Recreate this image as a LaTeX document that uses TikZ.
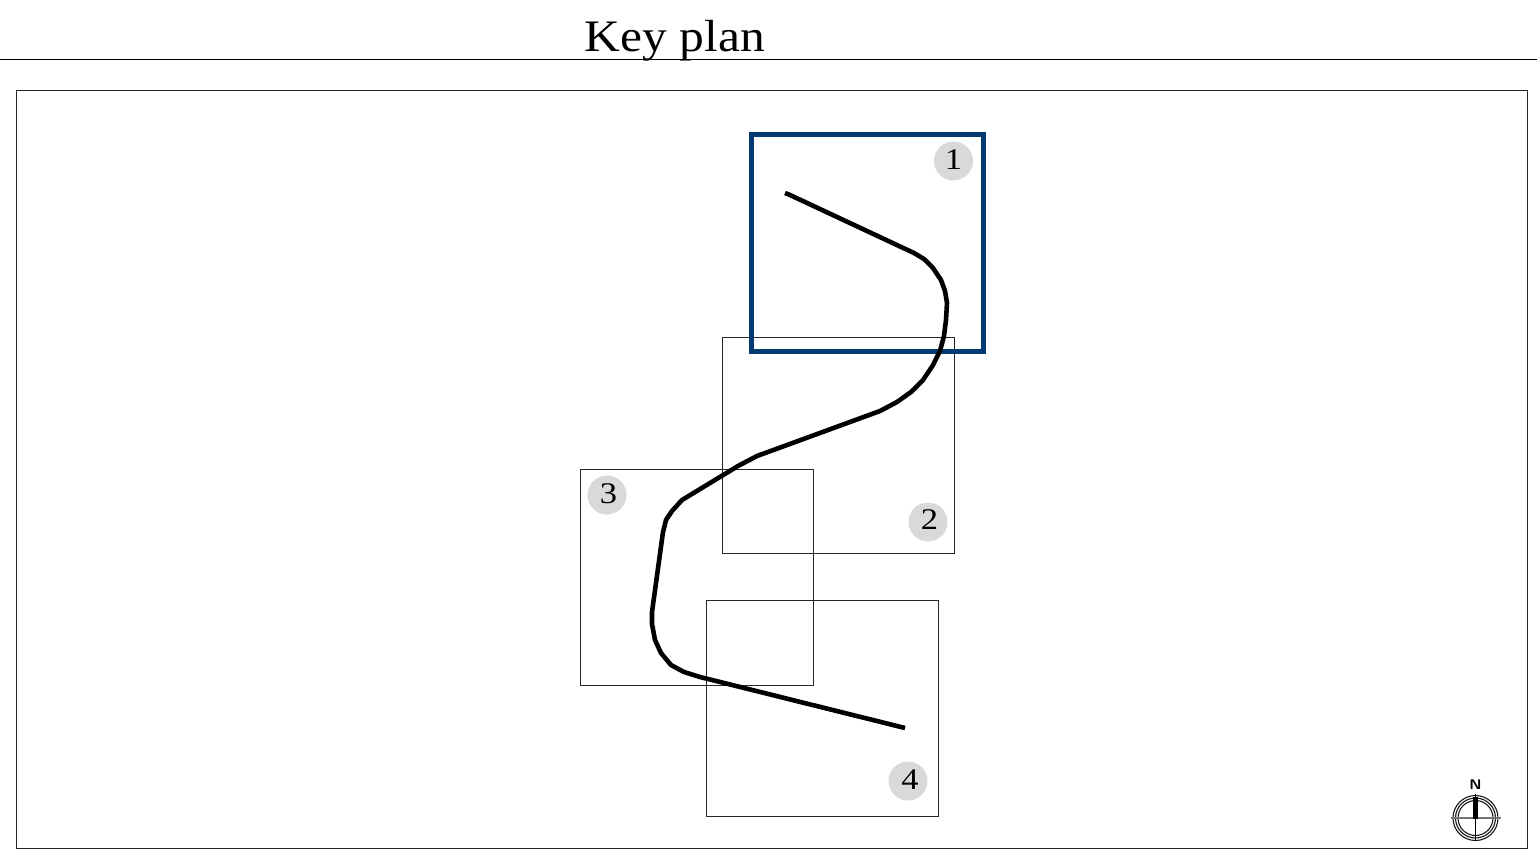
\documentclass[tikz,border=0pt]{standalone}
\usepackage{fontspec}
\setmainfont{Liberation Serif}
\definecolor{keyblue}{HTML}{003A70}
\definecolor{badge}{HTML}{D9D9D9}
\tikzset{
 sheet/.style={draw=black!85,line width=0.9pt},
 route/.style={draw=black,line width=4.6pt,line join=round},
 num/.style={circle,fill=badge,minimum size=39pt,inner sep=0pt},
 numtext/.style={inner sep=0pt,font=\fontsize{30}{30}\selectfont,text=black,xscale=1.15}
}
\begin{document}
\begin{tikzpicture}[x=1pt,y=-1pt]
\useasboundingbox (0,0) rectangle (1537,855);
\node[anchor=base,inner sep=0pt,font=\fontsize{45}{45}\selectfont,xscale=1.1] (title) at (675,51) {Key plan};
\coordinate (ruleL) at (0,59.5); \coordinate (ruleR) at (1537,59.5);
\draw[black,line width=1pt] (ruleL) -- (ruleR);
\draw[sheet] (16.5,90.5) rectangle (1527.5,848.5);
\draw[sheet] (722.5,337.5) rectangle (954.5,553);
\draw[sheet] (580.5,469.5) rectangle (813.5,685);
\draw[sheet] (706,600) rectangle (938.5,816);
\draw[keyblue,line width=5pt] (751,134) rectangle (983,351);
\node[num] (n1) at (953.5,161) {};
\node[num] (n2) at (928,522) {};
\node[num] (n3) at (607,495) {};
\node[num] (n4) at (908,781) {};
\node[numtext] at (953.5,159.5) {1};
\node[numtext] at (929.5,520) {2};
\node[numtext] at (608.5,493.5) {3};
\node[numtext] at (910,779.5) {4};
\draw[route] (785,193) -- (790,195) -- (914,253) -- (924,259) -- (933,268) -- (941,280) -- (945,291) -- (947,303) -- (946,320) -- (944,336) -- (940,351) -- (933,365) -- (923,380) -- (911,392) -- (897,402) -- (880,411) -- (757,456) -- (738,466) -- (682,500) -- (672,511) -- (666,520) -- (663,532) -- (652,612) -- (652,624) -- (655,640) -- (661,653) -- (671,665) -- (684,672) -- (700,677) -- (905,728);
% north arrow
\begin{scope}[shift={(1475.5,818)}]
\foreach \r in {22.5,20,17.5}{\draw[black!90,line width=1.1pt] (0,0) circle (\r);}
\draw[black!55,line width=1.6pt] (-25,0) -- (25,0);
\draw[black,line width=1pt] (0,-24) -- (0,23);
\fill[black] (-2.7,-21) rectangle (2.7,1);
\end{scope}
\node[font=\sffamily\bfseries\fontsize{14}{14}\selectfont,inner sep=0pt,xscale=1.1] (north) at (1475.5,785) {N};
\end{tikzpicture}
\end{document}
